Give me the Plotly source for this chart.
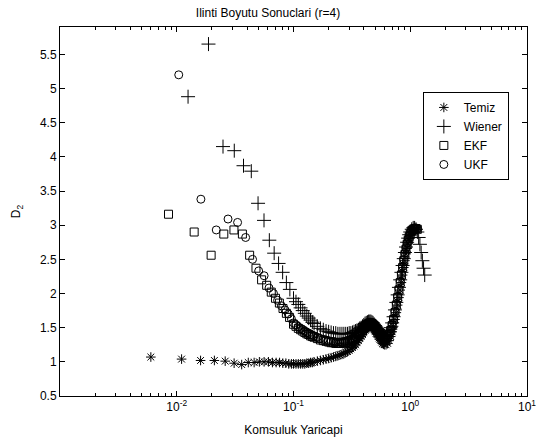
import plotly.graph_objects as go

# ---------------- data ----------------
TITLE = "Ilinti Boyutu Sonuclari (r=4)"
X_LABEL = "Komsuluk Yaricapi"
Y_LABEL = "D<sub>2</sub>"

X_TICK_VALUES = [0.01, 0.1, 1, 10]
X_TICK_TEXT = ["10<sup>-2</sup>", "10<sup>-1</sup>", "10<sup>0</sup>", "10<sup>1</sup>"]

# shared radius grid for the dense part of the curves
X_DENSE = [0.100, 0.105, 0.110, 0.115, 0.120, 0.125, 0.130, 0.135, 0.140, 0.145,
           0.150, 0.160, 0.170, 0.180, 0.190,
           0.20, 0.21, 0.22, 0.23, 0.24, 0.25, 0.26, 0.27, 0.28, 0.29,
           0.30, 0.31, 0.32, 0.33, 0.34, 0.35, 0.36, 0.37, 0.38, 0.39,
           0.40, 0.41, 0.42, 0.43, 0.44, 0.45, 0.46, 0.47, 0.48, 0.49,
           0.50, 0.51, 0.52, 0.53, 0.54, 0.55, 0.56, 0.57, 0.58, 0.59,
           0.60, 0.62, 0.64, 0.66, 0.68, 0.70, 0.72, 0.74, 0.76, 0.78,
           0.80, 0.82, 0.84, 0.86, 0.88, 0.90, 0.92, 0.94, 0.96, 0.98,
           1.00, 1.03, 1.06, 1.09, 1.12, 1.15]

# Temiz
TEMIZ_X_SPARSE = [0.006, 0.011, 0.016, 0.021, 0.026, 0.031, 0.036, 0.041, 0.046,
                  0.051, 0.056, 0.061, 0.066, 0.071, 0.076, 0.081, 0.086, 0.091, 0.096]
TEMIZ_Y_SPARSE = [1.07, 1.04, 1.02, 1.02, 1.01, 0.98, 0.96, 0.99, 0.99,
                  1.00, 1.00, 1.00, 0.99, 0.99, 0.99, 0.98, 0.98, 0.97, 0.97]
TEMIZ_Y_DENSE = [0.97, 0.97, 0.97, 0.97, 0.97, 0.97, 0.98, 0.98, 0.99, 0.99,
                 1.00, 1.01, 1.02, 1.03, 1.04,
                 1.05, 1.06, 1.07, 1.08, 1.09, 1.10, 1.11, 1.12, 1.14, 1.15,
                 1.17, 1.19, 1.21, 1.23, 1.25, 1.28, 1.31, 1.34, 1.37, 1.40,
                 1.43, 1.46, 1.48, 1.50, 1.51, 1.52, 1.52, 1.51, 1.49, 1.47,
                 1.45, 1.42, 1.40, 1.37, 1.35, 1.33, 1.31, 1.29, 1.27, 1.26,
                 1.25, 1.25, 1.27, 1.31, 1.37, 1.44, 1.52, 1.62, 1.72, 1.83,
                 1.94, 2.05, 2.16, 2.27, 2.38, 2.48, 2.58, 2.66, 2.74, 2.80,
                 2.85, 2.90, 2.93, 2.94, 2.94, 2.93]

# Wiener
WIENER_X_SPARSE = [0.0125, 0.0187, 0.0249, 0.0311, 0.0373, 0.0435, 0.0497, 0.0559,
                   0.0621, 0.0683, 0.0745, 0.0807, 0.0869, 0.0931]
WIENER_Y_SPARSE = [4.88, 5.65, 4.15, 4.09, 3.87, 3.79, 3.32, 3.07,
                   2.78, 2.59, 2.44, 2.31, 2.16, 2.06]
WIENER_Y_DENSE = [1.93, 1.88, 1.84, 1.79, 1.75, 1.71, 1.67, 1.64, 1.61, 1.58,
                  1.56, 1.52, 1.49, 1.47, 1.45,
                  1.44, 1.43, 1.42, 1.42, 1.41, 1.41, 1.41, 1.41, 1.41, 1.41,
                  1.42, 1.42, 1.43, 1.44, 1.45, 1.46, 1.47, 1.49, 1.50, 1.52,
                  1.54, 1.56, 1.57, 1.58, 1.59, 1.59, 1.59, 1.58, 1.57, 1.55,
                  1.53, 1.51, 1.49, 1.47, 1.45, 1.43, 1.42, 1.40, 1.39, 1.38,
                  1.38, 1.38, 1.40, 1.44, 1.50, 1.57, 1.66, 1.76, 1.87, 1.98,
                  2.09, 2.20, 2.31, 2.41, 2.51, 2.60, 2.68, 2.75, 2.81, 2.86,
                  2.90, 2.94, 2.96, 2.96, 2.94, 2.90]
WIENER_X_TAIL = [1.18, 1.21, 1.24, 1.27, 1.30, 1.33]
WIENER_Y_TAIL = [2.82, 2.72, 2.60, 2.48, 2.37, 2.27]

# EKF
EKF_X_SPARSE = [0.0085, 0.0141, 0.0197, 0.0253, 0.0309, 0.0365, 0.0421, 0.0477,
                0.0533, 0.0589, 0.0645, 0.0701, 0.0757, 0.0813, 0.0869, 0.0925]
EKF_Y_SPARSE = [3.16, 2.90, 2.56, 2.87, 2.93, 2.87, 2.56, 2.37,
                2.20, 2.12, 2.02, 1.93, 1.86, 1.78, 1.71, 1.65]
EKF_Y_DENSE = [1.55, 1.52, 1.49, 1.47, 1.45, 1.43, 1.41, 1.40, 1.38, 1.37,
               1.36, 1.34, 1.32, 1.31, 1.30,
               1.29, 1.28, 1.28, 1.27, 1.27, 1.27, 1.27, 1.28, 1.28, 1.29,
               1.30, 1.31, 1.32, 1.33, 1.35, 1.37, 1.39, 1.41, 1.44, 1.46,
               1.49, 1.51, 1.53, 1.55, 1.56, 1.57, 1.57, 1.56, 1.55, 1.53,
               1.51, 1.49, 1.47, 1.45, 1.43, 1.41, 1.39, 1.37, 1.36, 1.35,
               1.34, 1.34, 1.36, 1.40, 1.46, 1.53, 1.62, 1.72, 1.83, 1.94,
               2.05, 2.16, 2.27, 2.38, 2.48, 2.57, 2.65, 2.72, 2.78, 2.83,
               2.87, 2.92, 2.94, 2.95, 2.95, 2.94]

# UKF
UKF_X_SPARSE = [0.0104, 0.0161, 0.0218, 0.0275, 0.0332, 0.0389, 0.0446, 0.0503,
                0.0560, 0.0617, 0.0674, 0.0731, 0.0788, 0.0845, 0.0902, 0.0959]
UKF_Y_SPARSE = [5.20, 3.38, 2.93, 3.09, 3.04, 2.82, 2.50, 2.33,
                2.26, 2.08, 2.00, 1.90, 1.82, 1.76, 1.70, 1.63]
UKF_Y_DENSE = [1.57, 1.54, 1.51, 1.49, 1.47, 1.45, 1.43, 1.42, 1.40, 1.39,
               1.38, 1.36, 1.34, 1.33, 1.32,
               1.31, 1.30, 1.30, 1.29, 1.29, 1.29, 1.29, 1.30, 1.30, 1.31,
               1.32, 1.33, 1.34, 1.35, 1.37, 1.39, 1.41, 1.43, 1.46, 1.48,
               1.51, 1.53, 1.55, 1.56, 1.57, 1.58, 1.58, 1.57, 1.56, 1.54,
               1.52, 1.50, 1.48, 1.46, 1.44, 1.42, 1.40, 1.39, 1.38, 1.37,
               1.36, 1.36, 1.38, 1.42, 1.48, 1.55, 1.64, 1.74, 1.85, 1.96,
               2.07, 2.18, 2.29, 2.40, 2.50, 2.59, 2.67, 2.74, 2.80, 2.85,
               2.89, 2.93, 2.95, 2.96, 2.96, 2.95]

# ---------------- figure ----------------
FONT = "Liberation Sans, Arial, sans-serif"
BLACK = "#000000"

series = [
    ("Temiz", TEMIZ_X_SPARSE + X_DENSE, TEMIZ_Y_SPARSE + TEMIZ_Y_DENSE, "asterisk-open", 8),
    ("Wiener", WIENER_X_SPARSE + X_DENSE + WIENER_X_TAIL,
     WIENER_Y_SPARSE + WIENER_Y_DENSE + WIENER_Y_TAIL, "cross-thin-open", 10),
    ("EKF", EKF_X_SPARSE + X_DENSE, EKF_Y_SPARSE + EKF_Y_DENSE, "square-open", 8),
    ("UKF", UKF_X_SPARSE + X_DENSE, UKF_Y_SPARSE + UKF_Y_DENSE, "circle-open", 8),
]

fig = go.Figure()
for name, xs, ys, sym, size in series:
    fig.add_trace(go.Scatter(
        x=xs, y=ys, mode="markers", name=name,
        marker=dict(symbol=sym, size=size, color=BLACK,
                    line=dict(color=BLACK, width=1)),
    ))

fig.update_layout(
    width=536, height=445,
    margin=dict(l=60, r=9, t=27, b=49),
    paper_bgcolor="white", plot_bgcolor="white",
    font=dict(family=FONT, size=12, color=BLACK),
    title=dict(text=TITLE, x=0.5, xanchor="center", y=1 - 13 / 445, yanchor="middle",
               font=dict(family=FONT, size=12, color=BLACK)),
    showlegend=True,
    legend=dict(x=0.777, y=0.824, xanchor="left", yanchor="top",
                bordercolor=BLACK, borderwidth=1, bgcolor="white",
                font=dict(family=FONT, size=12, color=BLACK),
                itemsizing="trace", tracegroupgap=0),
)

fig.update_xaxes(
    type="log", range=[-3, 1], automargin=False,
    tickmode="array", tickvals=X_TICK_VALUES, ticktext=X_TICK_TEXT,
    ticklabeloverflow="allow",
    ticks="inside", ticklen=5, tickcolor=BLACK,
    minor=dict(ticks="inside", ticklen=3, tickcolor=BLACK, showgrid=False,
               tickmode="linear", dtick="D1"),
    showline=True, linecolor=BLACK, linewidth=1, mirror="ticks",
    showgrid=False, zeroline=False,
    title=dict(text=X_LABEL, standoff=12, font=dict(family=FONT, size=12)),
    tickfont=dict(family=FONT, size=12),
)
fig.update_yaxes(
    range=[0.5, 5.9], tick0=0.5, dtick=0.5, automargin=False,
    ticks="inside", ticklen=5, tickcolor=BLACK,
    showline=True, linecolor=BLACK, linewidth=1, mirror="ticks",
    showgrid=False, zeroline=False,
    title=dict(text=Y_LABEL, standoff=16, font=dict(family=FONT, size=12)),
    tickfont=dict(family=FONT, size=12),
)

fig.write_html("out.html")
